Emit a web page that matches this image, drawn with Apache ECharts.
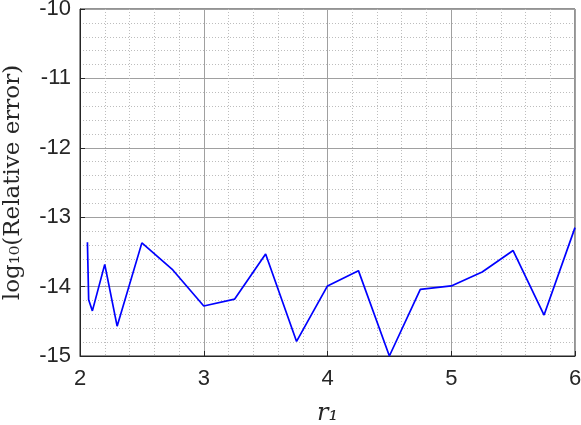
<!DOCTYPE html>
<html>
<head>
<meta charset="utf-8">
<script src="https://cdn.jsdelivr.net/npm/echarts@6/dist/echarts.min.js"></script>
<style>
  html, body { margin: 0; padding: 0; background: #fff; }
  #chart { width: 581px; height: 425px; }
</style>
</head>
<body>
<div id="chart"></div>
<script>
  // r1 values and log10 of the relative error
  const r1 = [2.06, 2.07, 2.1, 2.2, 2.3, 2.5, 2.75, 3, 3.25, 3.5, 3.75, 4, 4.25, 4.5, 4.75, 5, 5.25, 5.5, 5.75, 6];
  const logErr = [-13.36, -14.19, -14.35, -13.68, -14.57, -13.37, -13.76, -14.28, -14.18, -13.53, -14.79, -13.99, -13.77, -15.0, -14.04, -13.99, -13.79, -13.48, -14.41, -13.15];

  const chart = echarts.init(document.getElementById('chart'));

  const labelStyle = {
    color: '#262626',
    fontFamily: 'Liberation Sans',
    fontSize: 22
  };

  chart.setOption({
    animation: false,
    grid: {
      left: 80,
      right: 6,
      top: 9,
      bottom: 69,
      containLabel: false,
      outerBoundsMode: 'none',
      show: true,
      borderColor: '#262626',
      borderWidth: 1
    },
    xAxis: {
      type: 'value',
      min: 2,
      max: 6,
      interval: 1,
      name: 'r₁',
      nameLocation: 'middle',
      nameGap: 46,
      nameTextStyle: {
        fontFamily: 'DejaVu Serif',
        fontStyle: 'italic',
        fontSize: 24,
        color: '#262626'
      },
      axisLine: { show: true, lineStyle: { color: '#262626' } },
      axisTick: { show: true, inside: true, length: 5, lineStyle: { color: '#262626' } },
      axisLabel: Object.assign({ margin: 12 }, labelStyle),
      splitLine: { show: true, lineStyle: { color: '#a0a0a0', width: 1 } },
      minorTick: { show: false, splitNumber: 5 },
      minorSplitLine: { show: true, lineStyle: { color: '#bdbdbd', type: [1, 2], width: 1 } }
    },
    yAxis: {
      type: 'value',
      min: -15,
      max: -10,
      interval: 1,
      name: 'log₁₀(Relative error)',
      nameLocation: 'middle',
      nameGap: 55,
      nameRotate: 90,
      nameTextStyle: {
        fontFamily: 'DejaVu Serif',
        fontSize: 23,
        color: '#262626'
      },
      axisLine: { show: true, lineStyle: { color: '#262626' } },
      axisTick: { show: true, inside: true, length: 5, lineStyle: { color: '#262626' } },
      axisLabel: Object.assign({ margin: 9 }, labelStyle),
      splitLine: { show: true, lineStyle: { color: '#a0a0a0', width: 1 } },
      minorTick: { show: false, splitNumber: 5 },
      minorSplitLine: { show: true, lineStyle: { color: '#bdbdbd', type: [1, 2], width: 1 } }
    },
    series: [
      {
        type: 'line',
        data: r1.map((x, i) => [x, logErr[i]]),
        showSymbol: false,
        clip: false,
        lineStyle: { color: '#0000ff', width: 1.7 },
        itemStyle: { color: '#0000ff' }
      }
    ]
  });
</script>
</body>
</html>
